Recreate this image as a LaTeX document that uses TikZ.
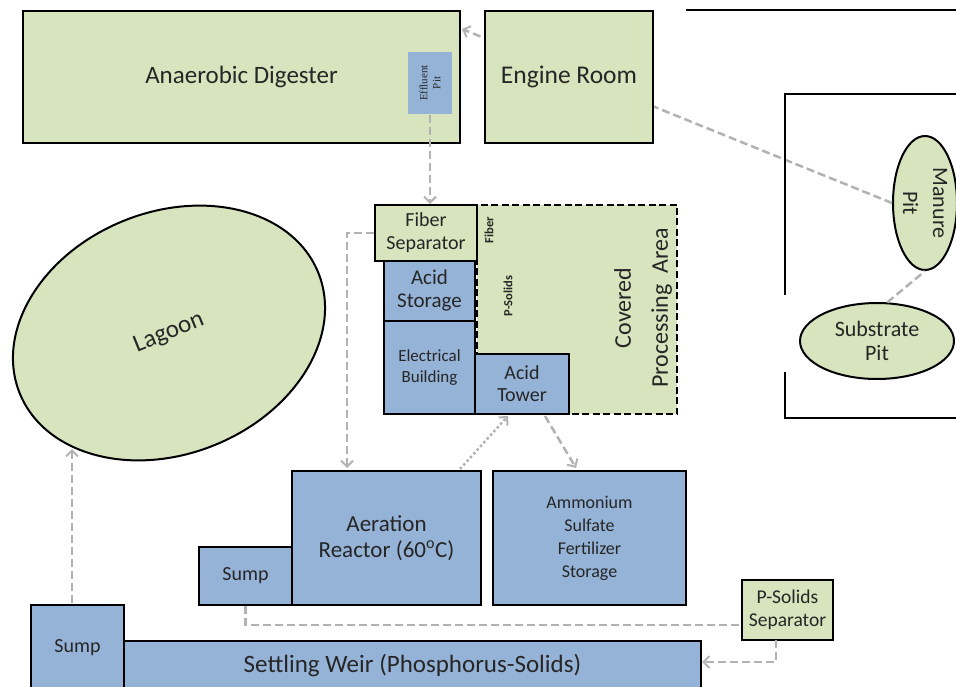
\documentclass[tikz,border=0pt]{standalone}
\usepackage{fontspec}
\setmainfont{Carlito}
\newfontfamily\serifpit{Liberation Serif}
\usetikzlibrary{arrows.meta,shapes.geometric}
\definecolor{gfill}{RGB}{215,228,189}
\definecolor{bfill}{RGB}{149,179,215}
\definecolor{conncol}{RGB}{178,178,178}
\definecolor{txt}{RGB}{38,38,38}
\newcommand{\fs}[2]{\fontsize{#1}{#2}\selectfont}
\begin{document}
\begin{tikzpicture}[x=1pt,y=-1pt,
 box/.style={draw=black, line width=2pt, anchor=north west, inner sep=0pt, align=center, text=txt},
 gbox/.style={box, fill=gfill},
 bbox/.style={box, fill=bfill},
 pit/.style={ellipse, draw=black, line width=2pt, fill=gfill, inner sep=0pt, align=center, text=txt},
 conn/.style={draw=conncol, line width=2.5pt, dash pattern=on 8pt off 4pt},
 conndot/.style={draw=conncol, line width=2.5pt, dash pattern=on 2.5pt off 2.5pt},
 arr/.style={-{Straight Barb[length=6pt,width=12pt,line width=2pt]}},
 wall/.style={line width=2pt, black},
 lbl/.style={text=txt, inner sep=0pt, align=center}]
\useasboundingbox (0,0) rectangle (956,687);

% pits
\node[pit, minimum width=134, minimum height=64, rotate=-90, font=\fs{22}{30}] (mp) at (925,203) {Manure\\Pit};
\node[pit, minimum width=154, minimum height=76, font=\fs{22}{24}] (sp) at (877,341) {Substrate\\Pit};
\coordinate (adin) at (462,29);
\draw[conn, arr] (mp.south) -- (adin);

% walls
\draw[wall] (686,10) -- (956,10);
\draw[wall] (956,94) -- (785,94) -- (785,295);
\draw[wall] (785,372) -- (785,418) -- (956,418);

% top buildings
\node[gbox, minimum width=437, minimum height=132, font=\fs{25}{28}] (ad) at (22,10) {Anaerobic Digester};
\node[bbox, draw=none, anchor=center, minimum width=62, minimum height=44, rotate=90, font=\serifpit\fs{11}{13}] (ep) at (430,83) {Effluent\\Pit};
\node[gbox, minimum width=168, minimum height=132, font=\fs{25.5}{28}] (er) at (484,10) {Engine Room};

% lagoon
\node[pit, minimum width=322, minimum height=242, rotate=22, font=\fs{25}{28}] (lag) at (169,333) {Lagoon};

% covered processing area
\node[draw=black, line width=2pt, dash pattern=on 7pt off 3.5pt, fill=gfill, anchor=north west, minimum width=200, minimum height=209, inner sep=0pt] (cpa) at (476,204) {};
\node[lbl, rotate=90, font=\fs{24}{37}] (cpat) at (643,308) {Covered\\Processing\ \ Area};
\node[lbl, rotate=90, font=\bfseries\fs{12.5}{14}] (fibl) at (489,230) {Fiber};
\node[lbl, rotate=90, font=\bfseries\fs{12.5}{14}] (psl) at (508,296) {P-Solids};

\node[gbox, minimum width=102, minimum height=56, font=\fs{20}{23}] (fsep) at (374,204) {Fiber\\Separator};
\node[bbox, minimum width=91, minimum height=60, font=\fs{21}{23}] (acs) at (383,260) {Acid\\Storage};
\node[bbox, minimum width=91, minimum height=93, font=\fs{17}{21}] (elb) at (383,320) {Electrical\\Building};
\node[bbox, minimum width=94, minimum height=60, font=\fs{20}{22}] (act) at (474,353) {Acid\\Tower};

% lower buildings
\node[bbox, minimum width=93, minimum height=58, font=\fs{20}{22}] (sa) at (198,546) {Sump};
\node[bbox, minimum width=189, minimum height=134, font=\fs{23}{26}] (ar) at (291,470) {Aeration\\Reactor (60\textsuperscript{o}C)};
\node[bbox, minimum width=193, minimum height=134, font=\fs{18}{23}] (am) at (492,470) {Ammonium\\Sulfate\\Fertilizer\\Storage};
\node[gbox, minimum width=91, minimum height=60, font=\fs{19.5}{23}] (pss) at (741,579) {P-Solids\\Separator};
\node[bbox, minimum width=577, minimum height=50, font=\fs{25}{28}] (sw) at (123,640) {Settling Weir (Phosphorus-Solids)};
\node[bbox, minimum width=93, minimum height=85, font=\fs{20}{22}] (sb) at (30,604) {Sump};

% connector end points
\coordinate (arin) at (347,468);
\coordinate (dotst) at (460,469);
\coordinate (dotend) at (508,416);
\coordinate (atout) at (545,416);
\coordinate (amin) at (576,468);
\coordinate (psin) at (741,625);
\coordinate (psout) at (776,640);
\coordinate (swin) at (702,662);
\coordinate (sbout) at (72,603);
\coordinate (lagin) at (72,449);

% connectors
\draw[conn] (sp.75) -- (mp.east);
\draw[conn, arr] (ep.west) -- (ep.west |- fsep.north);
\draw[conn, arr] (fsep.west) -| (arin);
\draw[conndot, arr] (dotst) -- (dotend);
\draw[conn, arr] (atout) -- (amin);
\draw[conn] (sa.south) |- (psin);
\draw[conn, arr] (psout) |- (swin);
\draw[conn, arr] (sbout) -- (lagin);
\end{tikzpicture}
\end{document}
